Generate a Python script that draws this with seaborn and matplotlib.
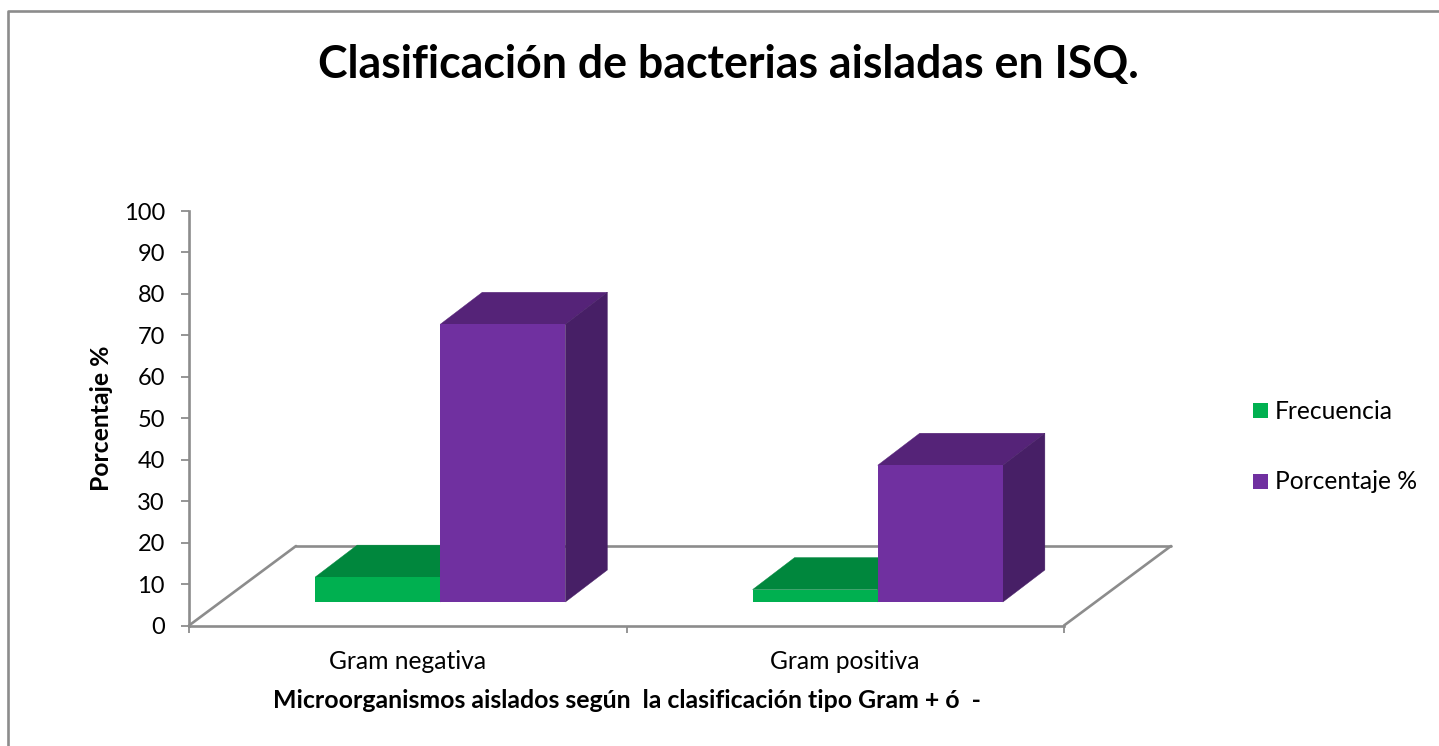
import matplotlib
matplotlib.use("Agg")
import matplotlib.pyplot as plt
from matplotlib.lines import Line2D
from matplotlib.patches import Polygon
from matplotlib.transforms import Affine2D
import pandas as pd
import seaborn as sns

# Chart values
categories = ["Gram negativa", "Gram positiva"]
frecuencia = [6, 3]
porcentaje = [67, 33]
series_names = ["Frecuencia", "Porcentaje %"]
y_ticks = list(range(0, 101, 10))

title_text = "Clasificación de bacterias aisladas en ISQ."
x_title = "Microorganismos aislados según  la clasificación tipo Gram + ó  -"
y_title = "Porcentaje %"

FRONT = {"Frecuencia": "#00B050", "Porcentaje %": "#7030A0"}
TOP = {"Frecuencia": "#00873D", "Porcentaje %": "#552378"}
SIDE = {"Frecuencia": "#006F32", "Porcentaje %": "#471F66"}
GRAY = "#8C8C8C"
LINE_W = 1.9

W, H = 1439, 746
sns.set_theme(style="white")
plt.rcParams["font.family"] = ["Lato", "DejaVu Sans"]

table = pd.DataFrame({
    "categoria": categories * 2,
    "serie": [series_names[0]] * 2 + [series_names[1]] * 2,
    "valor": frecuencia + porcentaje,
})

fig = plt.figure(figsize=(W / 100, H / 100), dpi=100, facecolor="white")
ax = fig.add_axes([189 / W, 1 - 625.5 / H, 875 / W, 414.5 / H])

sns.barplot(data=table, x="categoria", y="valor", hue="serie", hue_order=series_names,
            palette=FRONT, width=0.572, gap=0, saturation=1, legend=False, ax=ax)
ax.set_xlim(-0.5, 1.5)
ax.set_ylim(0, 100)

# Pixel offsets of the bars on the floor and of the pseudo-3D depth
bar_shift = ax.transData + Affine2D().translate(32.5, 23.5)
floor_shift = ax.transData + Affine2D().translate(107, 79.5)
depth_x = 42 / (875 / 2)
depth_y = 32 / 4.145

# Floor outline behind the bars: back edge plus the two receding edges
ax.plot([-0.5, 1.5], [0, 0], color=GRAY, lw=LINE_W, transform=floor_shift, clip_on=False, zorder=1)
for corner in ax.transData.transform([(-0.5, 0), (1.5, 0)]):
    ax.add_line(Line2D([corner[0], corner[0] + 107], [corner[1], corner[1] + 79.5],
                       color=GRAY, lw=LINE_W, transform=Affine2D(), clip_on=False, zorder=1))

# Front faces come from seaborn; the top and side faces extend them in depth
for level, (name, bars) in enumerate(zip(series_names, ax.containers)):
    for bar in bars:
        x0, x1 = bar.get_x(), bar.get_x() + bar.get_width()
        h = bar.get_height()
        bar.set_transform(bar_shift)
        bar.set_clip_on(False)
        bar.set_linewidth(0)
        bar.set_zorder(3 + 2 * level)
        top = Polygon([(x0, h), (x1, h), (x1 + depth_x, h + depth_y), (x0 + depth_x, h + depth_y)],
                      closed=True, fc=TOP[name], ec=TOP[name], lw=0.3, transform=bar_shift,
                      clip_on=False, zorder=2 + 2 * level)
        side = Polygon([(x1, 0), (x1, h), (x1 + depth_x, h + depth_y), (x1 + depth_x, depth_y)],
                       closed=True, fc=SIDE[name], ec=SIDE[name], lw=0.3, transform=bar_shift,
                       clip_on=False, zorder=2 + 2 * level)
        ax.add_patch(top)
        ax.add_patch(side)

# Axes
for key in ("top", "right"):
    ax.spines[key].set_visible(False)
for key in ("left", "bottom"):
    ax.spines[key].set_color(GRAY)
    ax.spines[key].set_linewidth(LINE_W)
    ax.spines[key].set_zorder(2)

ax.set_yticks(y_ticks)
ax.tick_params(axis="y", which="major", left=True, length=5.8, width=1.3, color=GRAY,
               labelsize=17, labelcolor="black", pad=11.6)
ax.set_xticks([-0.5, 0.5, 1.5])
ax.set_xticklabels([])
ax.set_xticks([0, 1], minor=True)
ax.set_xticklabels(categories, minor=True)
ax.tick_params(axis="x", which="major", bottom=True, length=5, width=1.3, color=GRAY)
ax.tick_params(axis="x", which="minor", bottom=False, length=0, labelsize=17.7,
               labelcolor="black", pad=17.3)
ax.set_xlabel("")
ax.set_ylabel("")
ax.patch.set_alpha(0)

# Titles
fig.text(728 / W, 1 - 65 / H, title_text, ha="center", va="center",
         fontsize=32.1, fontweight="bold", color="black")
fig.text(627 / W, 1 - 701 / H, x_title, ha="center", va="center",
         fontsize=17.9, fontweight="bold", color="black")
fig.text(102 / W, 1 - 418 / H, y_title, ha="center", va="center", rotation=90,
         fontsize=17.8, fontweight="bold", color="black")

# Legend
handles = [Line2D([], [], linestyle="none", marker="s", markersize=10.8, markeredgewidth=0,
                  markerfacecolor=FRONT[name]) for name in series_names]
fig.legend(handles, series_names, loc="upper left", bbox_to_anchor=(1248 / W, 1 - 400 / H),
           bbox_transform=fig.transFigure, frameon=False, fontsize=17.7, labelspacing=1.92,
           handlelength=1.0, handletextpad=0.09, borderpad=0, borderaxespad=0, labelcolor="black")

# Chart area border, open towards the right and bottom edges
fig.add_artist(Line2D([8 / W, 8 / W, 1], [0, 1 - 11 / H, 1 - 11 / H], color=GRAY, lw=LINE_W,
                      transform=fig.transFigure))

fig.savefig("out.png", dpi=100)
